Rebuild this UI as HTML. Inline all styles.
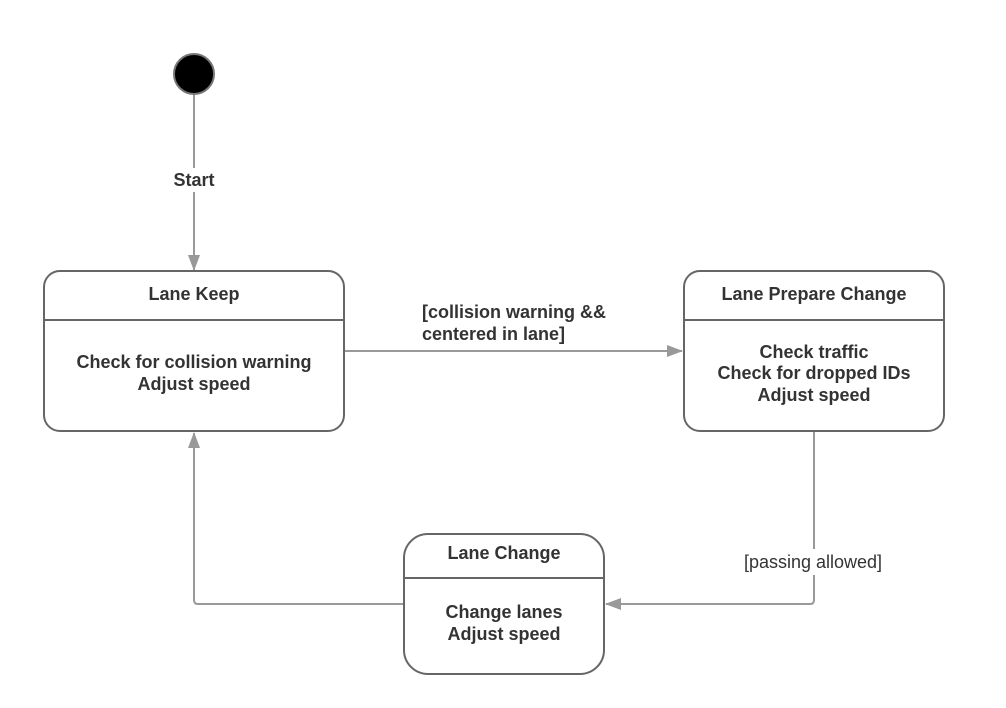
<!DOCTYPE html>
<html><head><meta charset="utf-8"><style>
html,body{margin:0;padding:0;background:#fff;}
svg{display:block;font-family:"Liberation Sans",Arial,sans-serif;}
.b{font-weight:bold;font-size:18px;fill:#333;}
</style></head><body>
<svg width="1006" height="708" viewBox="0 0 1006 708">
<defs><marker id="a" markerWidth="16" markerHeight="12" refX="15" refY="6" orient="auto" markerUnits="userSpaceOnUse"><path d="M0,0 L16,6 L0,12 z" fill="#999"/></marker></defs>
<g fill="none" stroke="#999" stroke-width="2">
<line x1="194" y1="94" x2="194" y2="270" marker-end="url(#a)"/>
<line x1="345" y1="351" x2="682" y2="351" marker-end="url(#a)"/>
<path d="M814,432 V600 Q814,604 810,604 H606" marker-end="url(#a)"/>
<path d="M403,604 H198 Q194,604 194,600 V433" marker-end="url(#a)"/>
</g>
<circle cx="194" cy="74" r="20" fill="#000" stroke="#777" stroke-width="2"/>
<rect x="170" y="168" width="48" height="24" fill="#fff"/>
<text x="194" y="186" text-anchor="middle" class="b">Start</text>
<g fill="#fff" stroke="#666" stroke-width="2">
<rect x="44" y="271" width="300" height="160" rx="16"/>
<rect x="684" y="271" width="260" height="160" rx="16"/>
<rect x="404" y="534" width="200" height="140" rx="24"/>
</g>
<g stroke="#666" stroke-width="2">
<line x1="45" y1="320" x2="343" y2="320"/>
<line x1="685" y1="320" x2="943" y2="320"/>
<line x1="405" y1="578" x2="603" y2="578"/>
</g>
<g text-anchor="middle" class="b">
<text x="194" y="300">Lane Keep</text>
<text x="194" y="368">Check for collision warning</text>
<text x="194" y="390">Adjust speed</text>
<text x="814" y="300">Lane Prepare Change</text>
<text x="814" y="358">Check traffic</text>
<text x="814" y="379">Check for dropped IDs</text>
<text x="814" y="401">Adjust speed</text>
<text x="504" y="559">Lane Change</text>
<text x="504" y="618">Change lanes</text>
<text x="504" y="640">Adjust speed</text>
</g>
<text x="422" y="318" class="b">[collision warning &amp;&amp;</text>
<text x="422" y="340" class="b">centered in lane]</text>
<rect x="742" y="549" width="144" height="26" fill="#fff"/>
<text x="813" y="568" text-anchor="middle" font-size="18" fill="#333">[passing allowed]</text>
</svg>
</body></html>
